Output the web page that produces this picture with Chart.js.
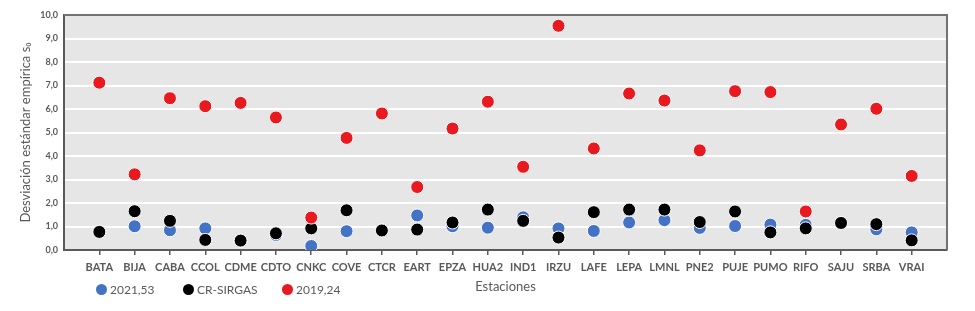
<!DOCTYPE html>
<html>
<head>
<meta charset="utf-8">
<script src="https://cdn.jsdelivr.net/npm/chart.js@4"></script>
<style>
  body { margin: 0; background: #fff; }
  #wrap { position: relative; width: 975px; height: 311px; }
  #legend { position: absolute; left: 96px; top: 282px; font: 12px Lato, sans-serif; color: #595959; }
  #legend span.item { position: absolute; white-space: nowrap; }
  #legend i { display: inline-block; width: 11px; height: 11px; border-radius: 50%; vertical-align: -1px; margin-right: 3px; }
</style>
</head>
<body>
<div id="wrap">
  <canvas id="chart" width="975" height="311"></canvas>
  <div id="legend"></div>
</div>
<script>
const stations = ['BATA', 'BIJA', 'CABA', 'CCOL', 'CDME', 'CDTO', 'CNKC', 'COVE', 'CTCR', 'EART', 'EPZA', 'HUA2',
  'IND1', 'IRZU', 'LAFE', 'LEPA', 'LMNL', 'PNE2', 'PUJE', 'PUMO', 'RIFO', 'SAJU', 'SRBA', 'VRAI'];
const s2021 = [0.77, 1.01, 0.84, 0.92, 0.40, 0.64, 0.17, 0.80, 0.85, 1.47, 1.01, 0.95,
  1.39, 0.92, 0.81, 1.17, 1.27, 0.94, 1.02, 1.08, 1.07, 1.15, 0.88, 0.75];
const crSirgas = [0.77, 1.65, 1.24, 0.43, 0.40, 0.71, 0.92, 1.69, 0.83, 0.87, 1.17, 1.72,
  1.24, 0.53, 1.61, 1.72, 1.72, 1.19, 1.64, 0.75, 0.92, 1.15, 1.10, 0.41];
const s2019 = [7.12, 3.22, 6.46, 6.12, 6.26, 5.64, 1.38, 4.77, 5.81, 2.68, 5.17, 6.31,
  3.54, 9.54, 4.32, 6.66, 6.36, 4.24, 6.76, 6.72, 1.64, 5.34, 6.01, 3.15];
const yTicks = [0, 1, 2, 3, 4, 5, 6, 7, 8, 9, 10];

const series = [
  { label: '2021,53', data: s2021, color: '#4472c4', order: 3 },
  { label: 'CR-SIRGAS', data: crSirgas, color: '#000000', order: 2 },
  { label: '2019,24', data: s2019, color: '#e8191f', order: 1 }
];

const gray = '#595959';

// fondo gris del área de trazado y borde superior/derecho
const plotBg = {
  id: 'plotBg',
  beforeDraw(chart) {
    const { ctx, chartArea: a } = chart;
    ctx.save();
    ctx.fillStyle = '#e7e6e6';
    ctx.fillRect(a.left, a.top, a.right - a.left, a.bottom - a.top);
    ctx.restore();
  },
  afterDatasetsDraw(chart) {
    const { ctx, chartArea: a } = chart;
    ctx.save();
    ctx.strokeStyle = '#767171';
    ctx.lineWidth = 2;
    ctx.beginPath();
    ctx.moveTo(a.left, a.top);
    ctx.lineTo(a.right, a.top);
    ctx.lineTo(a.right, a.bottom);
    ctx.stroke();
    ctx.restore();
  }
};

new Chart(document.getElementById('chart'), {
  type: 'scatter',
  data: {
    datasets: series.map(s => ({
      label: s.label,
      data: s.data.map((v, i) => ({ x: i + 1, y: v })),
      backgroundColor: s.color,
      borderColor: '#ffffff',
      borderWidth: 1,
      pointRadius: 6.5,
      order: s.order
    }))
  },
  plugins: [plotBg],
  options: {
    responsive: false,
    animation: false,
    layout: { padding: { left: 0, right: 28, top: 15, bottom: 14 } },
    plugins: { legend: { display: false }, tooltip: { enabled: false } },
    scales: {
      x: {
        type: 'linear',
        min: 0,
        max: stations.length + 1,
        afterBuildTicks: s => { s.ticks = stations.map((n, i) => ({ value: i + 1 })); },
        afterFit: s => { s.height = 47; },
        ticks: {
          autoSkip: false,
          maxRotation: 0,
          padding: 6,
          color: gray,
          font: { family: 'Lato', size: 11, weight: 'bold' },
          callback: v => stations[v - 1] || ''
        },
        grid: { drawOnChartArea: false, drawTicks: true, tickLength: 5, color: gray, lineWidth: 1.5 },
        border: { color: gray, width: 2 },
        title: { display: true, text: 'Estaciones', color: gray, font: { family: 'Lato', size: 13 }, padding: { top: 0, bottom: 2 } }
      },
      y: {
        min: 0,
        max: 10,
        afterBuildTicks: s => { s.ticks = yTicks.map(v => ({ value: v })); },
        afterFit: s => { s.width = 64; },
        ticks: {
          padding: 6,
          color: gray,
          font: { family: 'Lato', size: 9, weight: 'bold' },
          callback: v => v.toFixed(1).replace('.', ',')
        },
        grid: { color: '#ffffff', lineWidth: 2, drawTicks: false },
        border: { color: gray, width: 2 },
        title: { display: true, text: 'Desviación estándar empírica s₀', color: gray, font: { family: 'Lato', size: 13 }, padding: { top: 18, bottom: 4 } }
      }
    }
  }
});

// leyenda
const legendPos = [0, 87, 186];
const legend = document.getElementById('legend');
series.forEach((s, i) => {
  const item = document.createElement('span');
  item.className = 'item';
  item.style.left = legendPos[i] + 'px';
  item.innerHTML = '<i style="background:' + s.color + '"></i>' + s.label;
  legend.appendChild(item);
});
</script>
</body>
</html>
